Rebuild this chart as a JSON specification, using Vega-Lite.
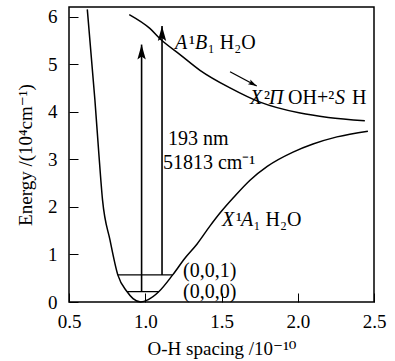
{
  "$schema": "https://vega.github.io/schema/vega-lite/v6.json",
  "width": 305,
  "height": 295,
  "autosize": "none",
  "padding": {"left": 69, "top": 7, "right": 21, "bottom": 59},
  "background": "white",
  "config": {
    "view": {"stroke": "black", "strokeWidth": 1.5},
    "axis": {
      "domain": false, "grid": false, "tickColor": "black", "tickSize": -9, "tickWidth": 1,
      "labelFont": "Liberation Serif", "labelFontSize": 19, "labelColor": "black",
      "titleFont": "Liberation Serif, DejaVu Serif", "titleFontSize": 19, "titleFontWeight": "normal", "titleColor": "black",
      "labelFlush": false
    },
    "text": {"font": "Liberation Serif", "fontSize": 20, "color": "black"}
  },
  "datasets": {
    "curves": [
      {"curve": "X", "r": 0.62, "E": 6.15},
      {"curve": "X", "r": 0.67, "E": 4.24},
      {"curve": "X", "r": 0.694, "E": 3.19},
      {"curve": "X", "r": 0.72, "E": 2.14},
      {"curve": "X", "r": 0.769, "E": 1.3},
      {"curve": "X", "r": 0.82, "E": 0.57},
      {"curve": "X", "r": 0.88, "E": 0.22},
      {"curve": "X", "r": 0.92, "E": 0.07},
      {"curve": "X", "r": 0.97, "E": 0.0},
      {"curve": "X", "r": 1.02, "E": 0.05},
      {"curve": "X", "r": 1.09, "E": 0.22},
      {"curve": "X", "r": 1.18, "E": 0.57},
      {"curve": "X", "r": 1.26, "E": 0.92},
      {"curve": "X", "r": 1.34, "E": 1.22},
      {"curve": "X", "r": 1.425, "E": 1.6},
      {"curve": "X", "r": 1.49, "E": 1.87},
      {"curve": "X", "r": 1.58, "E": 2.2},
      {"curve": "X", "r": 1.687, "E": 2.56},
      {"curve": "X", "r": 1.8, "E": 2.85},
      {"curve": "X", "r": 1.969, "E": 3.15},
      {"curve": "X", "r": 2.1, "E": 3.32},
      {"curve": "X", "r": 2.257, "E": 3.47},
      {"curve": "X", "r": 2.46, "E": 3.59},
      {"curve": "A", "r": 0.895, "E": 6.04},
      {"curve": "A", "r": 1.03, "E": 5.75},
      {"curve": "A", "r": 1.108, "E": 5.5},
      {"curve": "A", "r": 1.228, "E": 5.2},
      {"curve": "A", "r": 1.359, "E": 4.87},
      {"curve": "A", "r": 1.556, "E": 4.5},
      {"curve": "A", "r": 1.753, "E": 4.2},
      {"curve": "A", "r": 2.016, "E": 3.97},
      {"curve": "A", "r": 2.2, "E": 3.88},
      {"curve": "A", "r": 2.44, "E": 3.81}
    ],
    "levels": [
      {"r1": 0.88, "r2": 1.09, "E": 0.22},
      {"r1": 0.82, "r2": 1.18, "E": 0.57}
    ],
    "arrows": [
      {"r1": 0.976, "E1": 0.22, "r2": 0.976, "E2": 5.41},
      {"r1": 1.11, "E1": 0.57, "r2": 1.11, "E2": 5.8}
    ],
    "small": [
      {"r1": 1.556, "E1": 4.84, "r2": 1.731, "E2": 4.54}
    ],
    "italic": [
      {"r": 1.195, "E": 5.44, "t": "A"},
      {"r": 1.326, "E": 5.44, "t": "B"},
      {"r": 1.687, "E": 4.29, "t": "X"},
      {"r": 1.811, "E": 4.29, "t": "Π"},
      {"r": 2.244, "E": 4.29, "t": "S"},
      {"r": 1.503, "E": 1.72, "t": "X"},
      {"r": 1.628, "E": 1.72, "t": "A"}
    ],
    "roman": [
      {"r": 1.287, "E": 5.44, "t": "¹"},
      {"r": 1.41, "E": 5.44, "t": "₁ H₂O"},
      {"r": 1.779, "E": 4.29, "t": "²"},
      {"r": 1.936, "E": 4.29, "t": "OH+²"},
      {"r": 2.356, "E": 4.29, "t": "H"},
      {"r": 1.595, "E": 1.72, "t": "¹"},
      {"r": 1.71, "E": 1.72, "t": "₁ H₂O"},
      {"r": 1.149, "E": 3.43, "t": "193 nm"},
      {"r": 1.116, "E": 2.92, "t": "51813 cm⁻¹"},
      {"r": 1.248, "E": 0.65, "t": "(0,0,1)"},
      {"r": 1.248, "E": 0.21, "t": "(0,0,0)"}
    ]
  },
  "layer": [
    {
      "data": {"name": "curves"},
      "mark": {"type": "line", "color": "black", "strokeWidth": 1.5, "interpolate": "monotone"},
      "encoding": {
        "x": {"field": "r", "type": "quantitative", "scale": {"domain": [0.5, 2.5], "nice": false, "zero": false},
              "axis": {"values": [0.5, 1, 1.5, 2, 2.5], "format": ".1f", "title": "O-H spacing /10⁻¹⁰", "labelPadding": 19, "titlePadding": 8}},
        "y": {"field": "E", "type": "quantitative", "scale": {"domain": [0, 6.2], "nice": false},
              "axis": {"values": [0, 1, 2, 3, 4, 5, 6], "format": "d", "title": "Energy /(10⁴cm⁻¹)", "labelPadding": 21, "titlePadding": 12}},
        "detail": {"field": "curve"}
      }
    },
    {
      "data": {"name": "levels"},
      "mark": {"type": "rule", "color": "black", "strokeWidth": 1.3},
      "encoding": {
        "x": {"field": "r1", "type": "quantitative"},
        "x2": {"field": "r2"},
        "y": {"field": "E", "type": "quantitative"}
      }
    },
    {
      "data": {"name": "arrows"},
      "mark": {"type": "rule", "color": "black", "strokeWidth": 1.6},
      "encoding": {
        "x": {"field": "r1", "type": "quantitative"},
        "y": {"field": "E1", "type": "quantitative"},
        "y2": {"field": "E2"}
      }
    },
    {
      "data": {"name": "arrows"},
      "mark": {"type": "point", "shape": "M0,0L-0.28,1L0,0.8L0.28,1Z", "filled": true, "color": "black", "size": 900, "opacity": 1},
      "encoding": {
        "x": {"field": "r2", "type": "quantitative"},
        "y": {"field": "E2", "type": "quantitative"}
      }
    },
    {
      "data": {"name": "small"},
      "mark": {"type": "rule", "color": "black", "strokeWidth": 1.3},
      "encoding": {
        "x": {"field": "r1", "type": "quantitative"},
        "y": {"field": "E1", "type": "quantitative"},
        "x2": {"field": "r2"},
        "y2": {"field": "E2"}
      }
    },
    {
      "data": {"name": "small"},
      "mark": {"type": "point", "shape": "M0,0L-0.3,1L0,0.8L0.3,1Z", "filled": true, "color": "black", "size": 300, "opacity": 1, "angle": 118},
      "encoding": {
        "x": {"field": "r2", "type": "quantitative"},
        "y": {"field": "E2", "type": "quantitative"}
      }
    },
    {
      "data": {"name": "italic"},
      "mark": {"type": "text", "align": "left", "baseline": "middle", "fontStyle": "italic"},
      "encoding": {
        "x": {"field": "r", "type": "quantitative"},
        "y": {"field": "E", "type": "quantitative"},
        "text": {"field": "t"}
      }
    },
    {
      "data": {"name": "roman"},
      "mark": {"type": "text", "align": "left", "baseline": "middle"},
      "encoding": {
        "x": {"field": "r", "type": "quantitative"},
        "y": {"field": "E", "type": "quantitative"},
        "text": {"field": "t"}
      }
    }
  ]
}
